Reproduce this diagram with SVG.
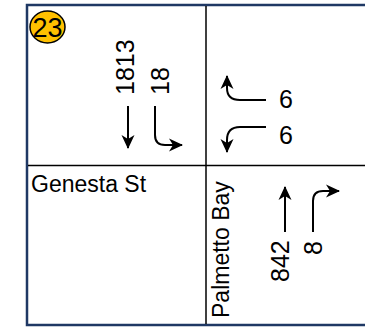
<svg xmlns="http://www.w3.org/2000/svg" width="365" height="327" viewBox="0 0 365 327">
<style>
.t{font-family:"Liberation Sans",Arial,sans-serif;fill:#000}
.d{font-size:25px}
.a{fill:none;stroke:#000;stroke-width:2;marker-end:url(#ah)}
</style>
<defs>
<marker id="ah" markerUnits="userSpaceOnUse" markerWidth="16" markerHeight="16" viewBox="0 -8 16 16" refX="13" refY="0" orient="auto">
<path d="M0,-6.5 L14,0 L0,6.5 L4,0 Z" fill="#000"/>
</marker>
</defs>
<rect width="365" height="327" fill="#fff"/>
<g id="frame">
<rect x="27" y="5" width="345" height="320" fill="none" stroke="#1F3864" stroke-width="2.5"/>
<line x1="206" y1="6" x2="206" y2="324" stroke="#000" stroke-width="1.5"/>
<line x1="28" y1="165.5" x2="365" y2="165.5" stroke="#000" stroke-width="1.5"/>
</g>
<g id="badge">
<ellipse cx="47.5" cy="27" rx="17.5" ry="16" fill="#FFC000" stroke="#000" stroke-width="1.5"/>
<text class="t" x="47.5" y="36.8" font-size="27" text-anchor="middle">23</text>
</g>
<g id="connectors">
<path class="a" d="M128,106 L128,148"/>
<path class="a" d="M155,106 L155,135 Q155,145 165,145 L182,145"/>
<path class="a" d="M266,100 L240,100 Q227,100 227,88 L227,76"/>
<path class="a" d="M266,127 L240,127 Q227,127 227,140 L227,152"/>
<path class="a" d="M285,232 L285,187"/>
<path class="a" d="M313,232 L313,201 Q313,191 323,191 L339,191"/>
</g>
<g id="labels">
<text class="t d" transform="translate(134,95) rotate(-90)">1813</text>
<text class="t d" transform="translate(169,95) rotate(-90)">18</text>
<text class="t d" x="279" y="108">6</text>
<text class="t d" x="279" y="144">6</text>
<text class="t d" transform="translate(289,282) rotate(-90)">842</text>
<text class="t d" transform="translate(322,255) rotate(-90)">8</text>
</g>
<g id="streets">
<text class="t" x="31" y="192" font-size="23">Genesta St</text>
<text class="t" transform="translate(229,318) rotate(-90)" font-size="23">Palmetto Bay</text>
</g>
</svg>
